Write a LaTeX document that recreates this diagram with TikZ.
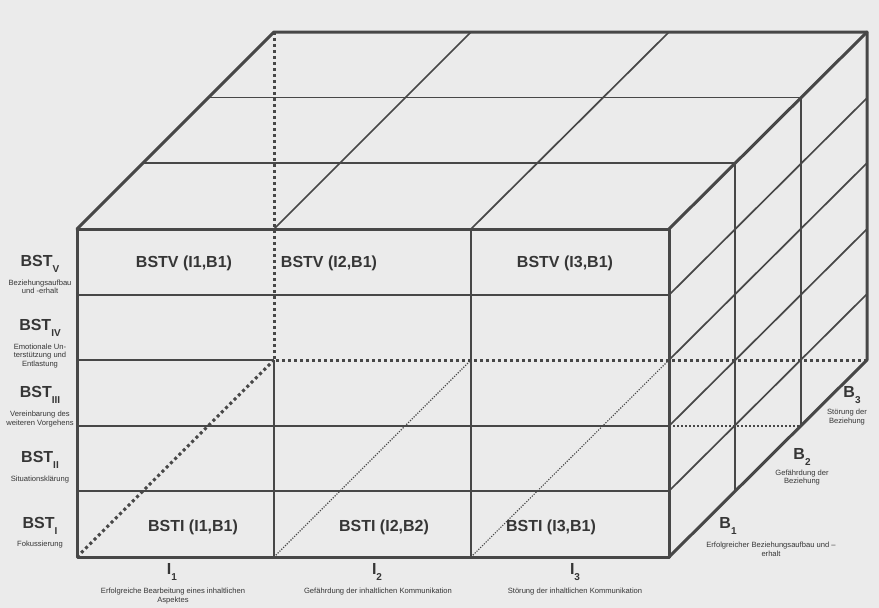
\documentclass[tikz,border=0pt]{standalone}
\usepackage{fontspec}
\setmainfont{Liberation Sans}
\usepackage{xcolor}
\definecolor{bgpaper}{HTML}{EBEBEB}
\definecolor{edge}{HTML}{474747}
\definecolor{txt}{HTML}{363636}
\newcommand{\subidx}[1]{\raisebox{-0.35em}{\fontsize{10}{10}\selectfont #1}}

\begin{document}
\begin{tikzpicture}[x=1pt,y=-1pt,
  outer/.style={line width=3pt,draw=edge,line cap=round,line join=round},
  inner/.style={line width=1.7pt,draw=edge},
  hidden/.style={line width=3pt,draw=edge,dash pattern=on 3pt off 3pt},
  hiddenmid/.style={line width=1.6pt,draw=edge,dash pattern=on 2pt off 2pt},
  hiddenthin/.style={line width=1.1pt,draw=edge,dash pattern=on 1.2pt off 1.4pt},
  cell/.style={font=\bfseries\fontsize{16}{16}\selectfont,text=txt},
  axis/.style={font=\bfseries\fontsize{16}{16}\selectfont,text=txt},
  desc/.style={font=\fontsize{7.6}{8.5}\selectfont,text=txt,align=center}]
\fill[bgpaper] (0,0) rectangle (879,608);
\useasboundingbox (0,0) rectangle (879,608);

\draw[hidden] (274,32) -- (274,360) -- (867,360);
\draw[hidden] (77,557) -- (274,360);
\draw[hiddenthin] (274,557) -- (471,360) (471,557) -- (669,360);
\draw[hiddenmid] (669,426) -- (801,426);

\draw[inner] (77,360) -- (274,360);
\foreach \y in {295,426,491} \draw[inner] (77,\y) -- (669,\y);
\draw[inner] (274,360) -- (274,557);
\draw[inner] (471,229) -- (471,557);

\foreach \d in {1,2}
  \draw[inner] ({77+66*\d},{229-65.7*\d}) -- ({669+66*\d},{229-65.7*\d}) -- ({669+66*\d},{557-65.7*\d});
\draw[inner] (274,229) -- (471,32) (471,229) -- (669,32);
\foreach \y in {295,360,426,491} \draw[inner] (669,\y) -- (867,\y-197);

\draw[outer] (77,229) rectangle (669,557);
\draw[outer] (77,229) -- (274,32) -- (867,32) -- (867,360) -- (669,557);
\draw[outer] (669,229) -- (867,32);

\node[cell] (vI1) at (184,263) {BSTV (I1,B1)};
\node[cell] (vI2) at (329,263) {BSTV (I2,B1)};
\node[cell] (vI3) at (565,263) {BSTV (I3,B1)};
\node[cell] (iI1) at (193,527) {BSTI (I1,B1)};
\node[cell] (iI2) at (384,527) {BSTI (I2,B2)};
\node[cell] (iI3) at (551,527) {BSTI (I3,B1)};

\foreach \r/\y/\d/\dy in {V/264/{Beziehungsaufbau\\und -erhalt}/287,
    IV/328/{Emotionale Un-\\terstützung und\\Entlastung}/356,
    III/395/{Vereinbarung des\\weiteren Vorgehens}/419,
    II/460/{Situationsklärung}/480,
    I/526/{Fokussierung}/545}
{
  \node[axis] (bst\r) at (40,\y) {BST\subidx{\r}};
  \node[desc] (bst\r desc) at (40,\dy) {\d};
}

\node[axis] (i1) at (172,572) {I\subidx{1}};
\node[desc] (i1desc) at (173,596) {Erfolgreiche Bearbeitung eines inhaltlichen\\Aspektes};
\node[axis] (i2) at (377,572) {I\subidx{2}};
\node[desc] (i2desc) at (378,592) {Gefährdung der inhaltlichen Kommunikation};
\node[axis] (i3) at (575,572) {I\subidx{3}};
\node[desc] (i3desc) at (575,592) {Störung der inhaltlichen Kommunikation};

\node[axis] (b1) at (728,526) {B\subidx{1}};
\node[desc] (b1desc) at (771,549.5) {Erfolgreicher Beziehungsaufbau und –\\erhalt};
\node[axis] (b2) at (802,457) {B\subidx{2}};
\node[desc] (b2desc) at (802,477.5) {Gefährdung der\\Beziehung};
\node[axis] (b3) at (852,395) {B\subidx{3}};
\node[desc] (b3desc) at (847,417) {Störung der\\Beziehung};
\end{tikzpicture}
\end{document}
